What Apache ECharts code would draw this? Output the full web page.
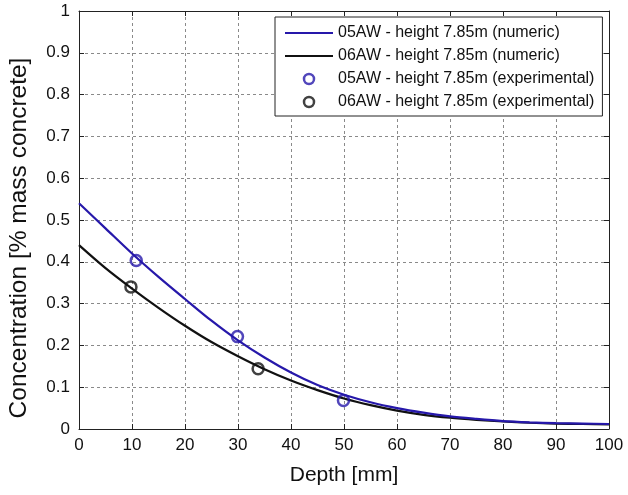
<!DOCTYPE html>
<html>
<head>
<meta charset="utf-8">
<script src="https://cdn.jsdelivr.net/npm/echarts@6/dist/echarts.min.js"></script>
<style>
  html, body { margin: 0; padding: 0; background: #fff; }
  #chart { width: 628px; height: 495px; }
</style>
</head>
<body>
<div id="chart"></div>
<script>
// Depth grid (mm) for the numeric profiles
const depth = [0, 5, 10, 15, 20, 25, 30, 35, 40, 45, 50, 55, 60, 65, 70, 75, 80, 85, 90, 95, 100];

// Numeric chloride profiles (% mass concrete)
const numeric05AW = [0.54, 0.48, 0.42, 0.364, 0.311, 0.259, 0.212, 0.171, 0.135, 0.105, 0.082, 0.064, 0.050, 0.039, 0.030, 0.024, 0.019, 0.016, 0.014, 0.013, 0.012];
const numeric06AW = [0.44, 0.385, 0.336, 0.290, 0.247, 0.208, 0.174, 0.143, 0.116, 0.093, 0.073, 0.057, 0.044, 0.034, 0.027, 0.022, 0.018, 0.015, 0.013, 0.012, 0.011];

// Measured samples: depth (mm) and concentration
const exp05AWDepth = [10.8, 29.9, 49.9];
const exp05AWValue = [0.403, 0.221, 0.068];
const exp06AWDepth = [9.8, 33.8];
const exp06AWValue = [0.340, 0.144];

const seriesNames = [
  '05AW - height 7.85m (numeric)',
  '06AW - height 7.85m (numeric)',
  '05AW - height 7.85m (experimental)',
  '06AW - height 7.85m (experimental)'
];

const BLUE = '#2618aa';
const BLACK = '#111111';
const FONT = '"Liberation Sans", Arial, Helvetica, sans-serif';
// Plain horizontal stroke used as the legend key for the line series
const LINE_KEY = 'path://M0,0H48V2.2H0Z';

const zip = (xs, ys) => xs.map((x, i) => [x, ys[i]]);

const chart = echarts.init(document.getElementById('chart'), null, { renderer: 'canvas' });

const gridLine = { show: true, lineStyle: { color: '#8a8a8a', width: 1, type: [3, 3] } };
const frameLine = { show: true, onZero: false, lineStyle: { color: '#222', width: 1 } };
const innerTick = { show: true, inside: true, length: 5, lineStyle: { color: '#222', width: 1 } };

chart.setOption({
  animation: false,
  backgroundColor: '#fff',
  textStyle: { fontFamily: FONT },
  grid: { left: 79, right: 19, top: 11, bottom: 66, containLabel: false, outerBoundsMode: 'none' },
  legend: {
    left: 275,
    top: 17,
    orient: 'vertical',
    backgroundColor: '#fff',
    borderColor: '#222',
    borderWidth: 1,
    padding: [8, 8, 6, 10],
    itemWidth: 48,
    itemHeight: 10,
    itemGap: 7,
    textStyle: { fontFamily: FONT, fontSize: 16, color: '#111' },
    data: [
      { name: seriesNames[0], icon: LINE_KEY, itemStyle: { color: BLUE, borderWidth: 0 } },
      { name: seriesNames[1], icon: LINE_KEY, itemStyle: { color: BLACK, borderWidth: 0 } },
      { name: seriesNames[2], icon: 'circle', itemStyle: { color: 'transparent', borderColor: BLUE, borderWidth: 2.5 } },
      { name: seriesNames[3], icon: 'circle', itemStyle: { color: 'transparent', borderColor: BLACK, borderWidth: 2.5 } }
    ]
  },
  xAxis: [
    {
      type: 'value', min: 0, max: 100, interval: 10,
      name: 'Depth [mm]', nameLocation: 'middle', nameGap: 36,
      nameTextStyle: { fontFamily: FONT, fontSize: 21, color: '#111' },
      axisLine: frameLine, axisTick: innerTick,
      axisLabel: { fontFamily: FONT, fontSize: 17, color: '#111', margin: 8 },
      splitLine: gridLine
    },
    {
      type: 'value', position: 'top', min: 0, max: 100, interval: 10,
      axisLine: frameLine, axisTick: innerTick,
      axisLabel: { show: false }, splitLine: { show: false }
    }
  ],
  yAxis: [
    {
      type: 'value', min: 0, max: 1, interval: 0.1,
      name: 'Concentration [% mass concrete]', nameLocation: 'middle', nameGap: 47,
      nameTextStyle: { fontFamily: FONT, fontSize: 24.5, color: '#111', padding: [0, 36, 0, 0] },
      axisLine: frameLine, axisTick: innerTick,
      axisLabel: { fontFamily: FONT, fontSize: 17, color: '#111', margin: 9 },
      splitLine: gridLine
    },
    {
      type: 'value', position: 'right', min: 0, max: 1, interval: 0.1,
      axisLine: frameLine, axisTick: innerTick,
      axisLabel: { show: false }, splitLine: { show: false }
    }
  ],
  series: [
    {
      name: seriesNames[0], type: 'line', data: zip(depth, numeric05AW),
      smooth: 0.3, symbol: 'none', lineStyle: { color: BLUE, width: 2.2 }, itemStyle: { color: BLUE }, z: 3
    },
    {
      name: seriesNames[1], type: 'line', data: zip(depth, numeric06AW),
      smooth: 0.3, symbol: 'none', lineStyle: { color: BLACK, width: 2.2 }, itemStyle: { color: BLACK }, z: 2
    },
    {
      name: seriesNames[2], type: 'scatter', data: zip(exp05AWDepth, exp05AWValue),
      symbol: 'circle', symbolSize: 11,
      itemStyle: { color: 'transparent', borderColor: BLUE, borderWidth: 2.5 }, z: 4
    },
    {
      name: seriesNames[3], type: 'scatter', data: zip(exp06AWDepth, exp06AWValue),
      symbol: 'circle', symbolSize: 11,
      itemStyle: { color: 'transparent', borderColor: BLACK, borderWidth: 2.5 }, z: 4
    }
  ]
});
</script>
</body>
</html>
